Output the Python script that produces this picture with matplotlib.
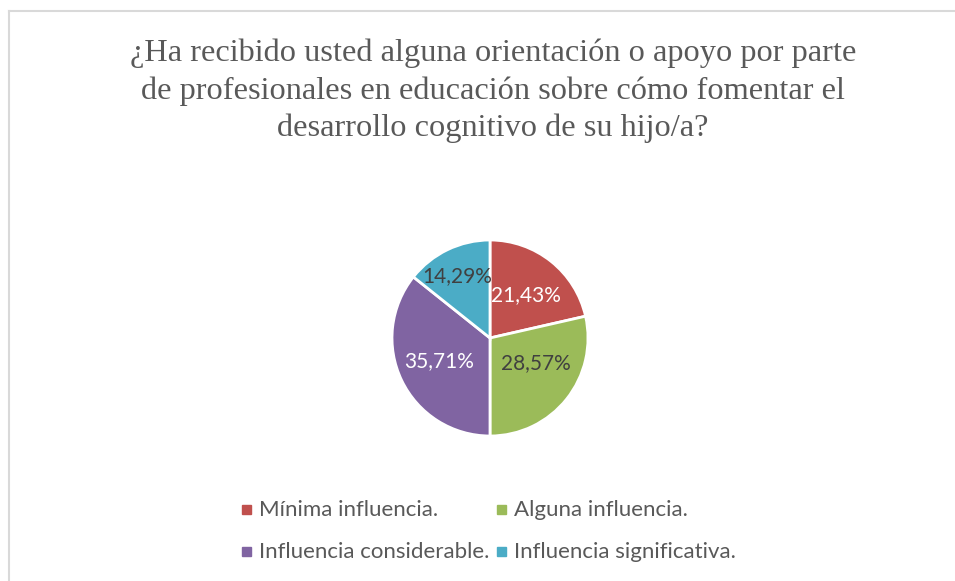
import matplotlib
matplotlib.use("Agg")
import matplotlib.pyplot as plt
from matplotlib.patches import Rectangle
from matplotlib.lines import Line2D
import numpy as np

title = ("¿Ha recibido usted alguna orientación o apoyo por parte\n"
         "de profesionales en educación sobre cómo fomentar el\n"
         "desarrollo cognitivo de su hijo/a?")
categories = ["Mínima influencia.", "Alguna influencia.",
              "Influencia considerable.", "Influencia significativa."]
values = [21.43, 28.57, 35.71, 14.29]
value_labels = ["21,43%", "28,57%", "35,71%", "14,29%"]
colors = ["#C0504D", "#9BBB59", "#8064A2", "#4BACC6"]
label_colors = ["white", "#404040", "white", "#404040"]

W, H = 955, 581
fig = plt.figure(figsize=(W / 100, H / 100), dpi=100)
fig.patch.set_facecolor("white")

# border
fig.add_artist(Line2D([9 / W, 1.0], [1 - 11 / H, 1 - 11 / H], color="#d9d9d9", lw=1.5))
fig.add_artist(Line2D([9 / W, 9 / W], [0.0, 1 - 11 / H], color="#d9d9d9", lw=1.5))

cx, cy, r = 490, 338, 98
ax = fig.add_axes([(cx - r) / W, 1 - (cy + r) / H, 2 * r / W, 2 * r / H])
wedges, _ = ax.pie(values, colors=colors, startangle=90, counterclock=False,
                   wedgeprops=dict(edgecolor="white", linewidth=2))
ax.set_xlim(-1.0, 1.0)
ax.set_ylim(-1.0, 1.0)
ax.set_aspect("equal")
ax.axis("off")

dist = [0.57, 0.53, 0.57, 0.71]
offsets = [np.deg2rad(-2), np.deg2rad(10), np.deg2rad(-1), np.deg2rad(2)]
for i, (w, lab) in enumerate(zip(wedges, value_labels)):
    a = np.deg2rad((w.theta1 + w.theta2) / 2) + offsets[i]
    ax.text(dist[i] * np.cos(a), dist[i] * np.sin(a), lab, ha="center", va="center",
            fontsize=15, color=label_colors[i], family="Lato")

fig.text(493 / W, 1 - 91 / H, title, ha="center", va="center", fontsize=23.3,
         family="Liberation Serif", color="#595959", linespacing=1.36)

# legend
leg_pos = [(242, 510), (497, 510), (242, 552), (497, 552)]
for (x, y), c, name in zip(leg_pos, colors, categories):
    fig.add_artist(Rectangle((x / W, 1 - (y + 4) / H), 9 / W, 9 / H, color=c,
                             transform=fig.transFigure))
    fig.text((x + 17) / W, 1 - y / H, name, ha="left", va="center", fontsize=16,
             family="Lato", color="#595959")

fig.savefig("out.png", dpi=100)
